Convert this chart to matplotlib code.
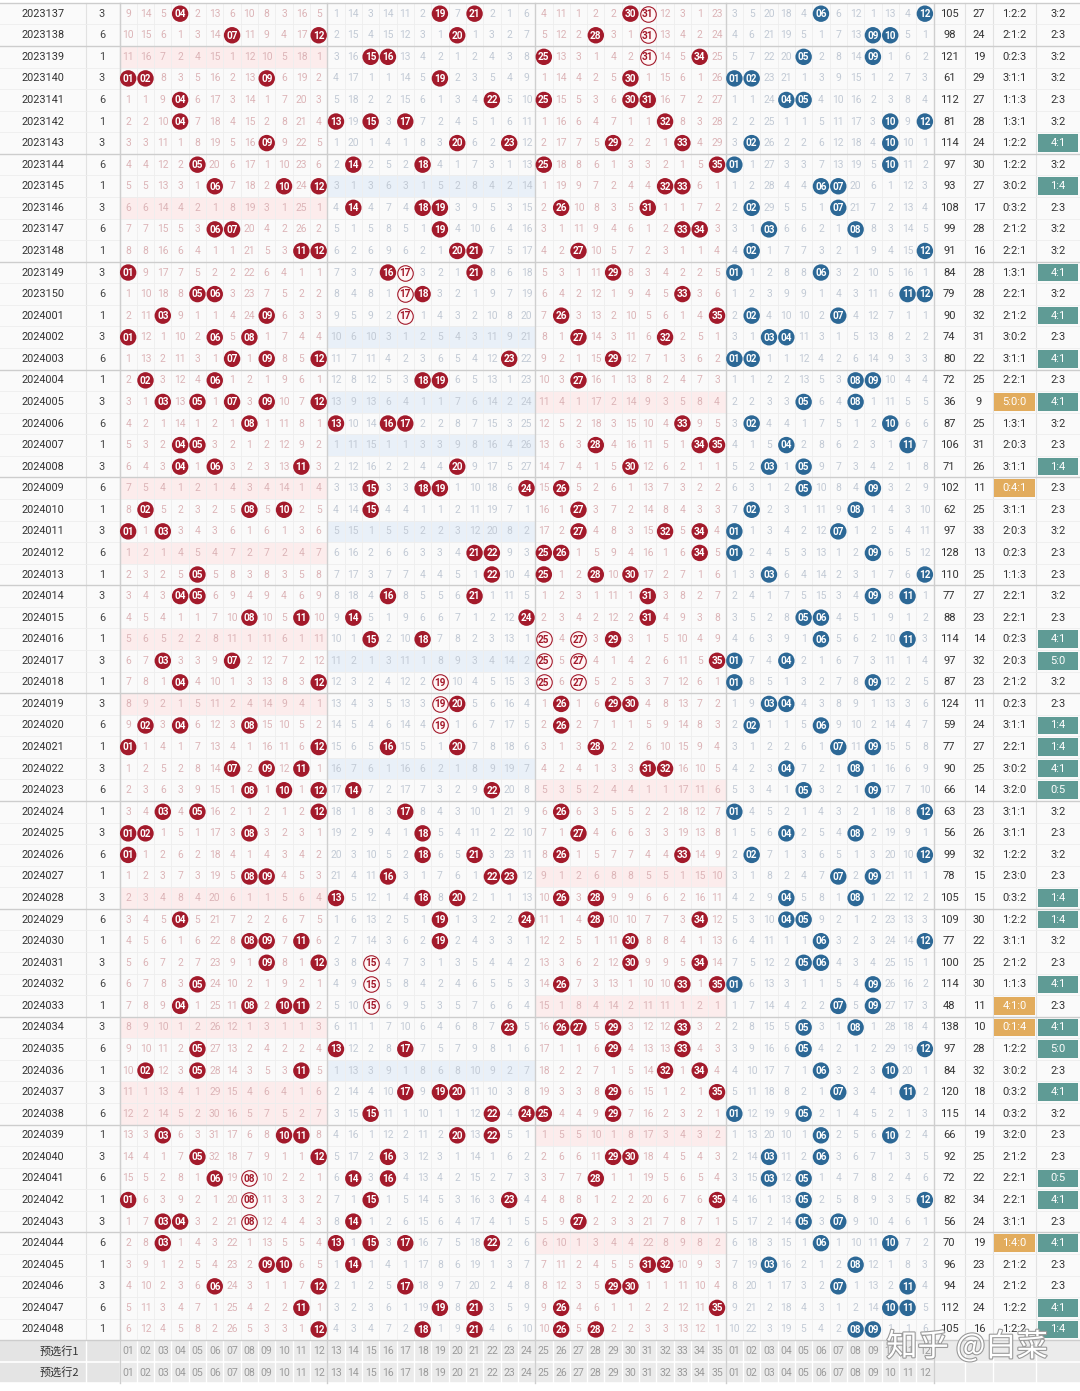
import matplotlib
matplotlib.use('Agg')
import matplotlib.pyplot as plt
import matplotlib.patheffects as pe
from matplotlib.patches import Rectangle
import numpy as np

# ---------------- data ----------------
issues = ['2023137', '2023138', '2023139', '2023140', '2023141', '2023142', '2023143',
          '2023144', '2023145', '2023146', '2023147', '2023148', '2023149', '2023150',
          '2024001', '2024002', '2024003', '2024004', '2024005', '2024006', '2024007',
          '2024008', '2024009', '2024010', '2024011', '2024012', '2024013', '2024014',
          '2024015', '2024016', '2024017', '2024018', '2024019', '2024020', '2024021',
          '2024022', '2024023', '2024024', '2024025', '2024026', '2024027', '2024028',
          '2024029', '2024030', '2024031', '2024032', '2024033', '2024034', '2024035',
          '2024036', '2024037', '2024038', '2024039', '2024040', '2024041', '2024042',
          '2024043', '2024044', '2024045', '2024046', '2024047', '2024048']
weekday = [3, 6, 1, 3, 6, 1, 3, 6, 1, 3, 6, 1, 3, 6, 1, 3, 6, 1, 3, 6, 1, 3, 6, 1, 3, 6,
           1, 3, 6, 1, 3, 1, 3, 6, 1, 3, 6, 1, 3, 6, 1, 3, 6, 1, 3, 6, 1, 3, 6, 1, 3, 6,
           1, 3, 6, 1, 3, 6, 1, 3, 6, 1]
front = [[4, 19, 21, 30, 31], [7, 12, 20, 28, 31], [15, 16, 25, 31, 34], [1, 2, 9, 19, 30],
         [4, 22, 25, 30, 31], [4, 13, 15, 17, 32], [9, 20, 23, 29, 33], [5, 14, 18, 25, 35],
         [6, 10, 12, 32, 33], [14, 18, 19, 26, 31], [6, 7, 19, 33, 34], [11, 12, 20, 21, 27],
         [1, 16, 17, 21, 29], [5, 6, 17, 18, 33], [3, 9, 17, 26, 35], [1, 6, 8, 27, 32],
         [7, 9, 12, 23, 29], [2, 6, 18, 19, 27], [3, 5, 7, 9, 12], [8, 13, 16, 17, 33],
         [4, 5, 28, 34, 35], [4, 6, 11, 20, 30], [15, 18, 19, 24, 26], [2, 8, 10, 15, 27],
         [1, 3, 27, 32, 34], [21, 22, 25, 26, 34], [5, 22, 25, 28, 30], [4, 5, 16, 21, 31],
         [8, 11, 14, 24, 31], [15, 18, 25, 27, 29], [3, 7, 25, 27, 35], [4, 12, 19, 25, 27],
         [19, 20, 26, 29, 30], [2, 4, 8, 19, 26], [1, 12, 16, 20, 28], [7, 9, 11, 31, 32],
         [8, 10, 12, 14, 22], [3, 5, 12, 17, 26], [1, 2, 8, 18, 27], [1, 18, 21, 26, 33],
         [8, 9, 16, 22, 23], [13, 18, 20, 26, 28], [4, 19, 24, 28, 34], [8, 9, 11, 19, 30],
         [9, 12, 15, 30, 34], [5, 15, 26, 33, 35], [4, 8, 10, 11, 15], [23, 26, 27, 29, 33],
         [5, 13, 17, 29, 33], [2, 5, 11, 32, 34], [17, 19, 20, 29, 35], [15, 22, 24, 25, 29],
         [3, 10, 11, 20, 22], [5, 12, 16, 29, 30], [6, 8, 14, 16, 28], [1, 8, 15, 23, 35],
         [3, 4, 8, 14, 27], [3, 13, 15, 17, 22], [9, 10, 14, 31, 32], [6, 12, 17, 29, 30],
         [11, 19, 21, 26, 35], [12, 18, 21, 26, 28]]
back = [[6, 12], [9, 10], [5, 9], [1, 2], [4, 5], [10, 12], [2, 10], [1, 10], [6, 7], [2, 7],
        [3, 8], [2, 12], [1, 6], [11, 12], [2, 7], [3, 4], [1, 2], [8, 9], [5, 8], [2, 10],
        [4, 11], [3, 5], [5, 9], [2, 8], [1, 7], [1, 9], [3, 12], [9, 11], [5, 6], [6, 11],
        [1, 4], [1, 9], [3, 4], [2, 6], [7, 9], [4, 8], [5, 9], [1, 12], [4, 8], [2, 12],
        [7, 9], [4, 8], [4, 5], [6, 12], [5, 6], [1, 9], [7, 9], [5, 8], [5, 12], [6, 10],
        [7, 11], [1, 5], [6, 10], [3, 6], [3, 5], [5, 12], [5, 7], [6, 10], [3, 8], [7, 11],
        [10, 11], [8, 9]]
# omission values shown in the first row (2023137); 0 = drawn
first_front_omission = [9, 14, 5, 0, 2, 13, 6, 10, 8, 3, 16, 5,
                        1, 14, 3, 14, 11, 2, 0, 7, 0, 2, 1, 6,
                        4, 11, 1, 2, 2, 0, 0, 12, 3, 1, 23]
first_back_omission = [3, 5, 20, 18, 4, 0, 6, 12, 1, 13, 4, 0]
footer_labels = ['预选行1', '预选行2']
front_labels = ['%02d' % v for v in range(1, 36)]
back_labels = ['%02d' % v for v in range(1, 13)]
watermark = '知乎 @白菜'

# ---------------- derived tables ----------------
n = len(issues)
fo = np.zeros((n, 35), int)
bo = np.zeros((n, 12), int)
fo[0] = first_front_omission
bo[0] = first_back_omission
for i in range(1, n):
    for k in range(35):
        fo[i, k] = 0 if (k + 1) in front[i] else fo[i - 1, k] + 1
    for k in range(12):
        bo[i, k] = 0 if (k + 1) in back[i] else bo[i - 1, k] + 1


def run_len(i, v):
    a = i
    while a - 1 >= 0 and v in front[a - 1]:
        a -= 1
    b = i
    while b + 1 < n and v in front[b + 1]:
        b += 1
    return b - a + 1


# ---------------- layout ----------------
W, H = 1080, 1391
fig = plt.figure(figsize=(W / 100, H / 100), dpi=100)
ax = fig.add_axes([0, 0, 1, 1])
ax.set_xlim(0, W)
ax.set_ylim(H, 0)
ax.axis('off')
fig.patch.set_facecolor('white')

x0 = 119.5
cw = 17.32
y0 = 2.9
rh = 21.57
issue_edges = [0, 86, x0]
right_edges = [x0 + 47 * cw, 965, 993, 1036, 1080]
nrows = n + 2

RED = '#a31a2b'
BLUE = '#2c6896'
PINK_BG = '#fcecec'
BLUE_BG = '#e9f0f8'
PINK_TXT = '#dcb4b7'
BLUE_TXT = '#c2cad5'
TEAL = '#5f9b95'
ORANGE = '#e2ac5d'


def cx(k):
    return x0 + (k + 0.5) * cw


def cy(i):
    return y0 + (i + 0.5) * rh


# background
ax.add_patch(Rectangle((0, y0), W, n * rh, facecolor='#fafafa', edgecolor='none', zorder=0))
ax.add_patch(Rectangle((0, y0 + n * rh), W, 2 * rh, facecolor='#ebebeb', edgecolor='none', zorder=0))
ax.add_patch(Rectangle((0, y0 + n * rh), issue_edges[2], 2 * rh, facecolor='#e4e4e4', edgecolor='none', zorder=0))

zones = [(0, 12, PINK_BG), (12, 24, BLUE_BG), (24, 35, PINK_BG)]
for i in range(n):
    for (a, b, col) in zones:
        if not any(a < v <= b for v in front[i]):
            ax.add_patch(Rectangle((x0 + a * cw, y0 + i * rh), (b - a) * cw, rh,
                                   facecolor=col, edgecolor='none', zorder=0.5))

# grid lines
ytop, ybot = y0, y0 + nrows * rh
for k in range(48):
    xx = x0 + k * cw
    ax.plot([xx, xx], [ytop, y0 + n * rh], color='#eeeeee', lw=0.6, zorder=1)
    ax.plot([xx, xx], [y0 + n * rh, ybot], color='white', lw=1.0, zorder=1)
for xx in issue_edges[1:] + right_edges[1:-1]:
    ax.plot([xx, xx], [ytop, y0 + n * rh], color='#e2e2e2', lw=0.8, zorder=1)
    ax.plot([xx, xx], [y0 + n * rh, ybot], color='white', lw=1.0, zorder=1)
for k in [12, 24, 35, 47]:
    xx = x0 + k * cw
    ax.plot([xx, xx], [ytop, ybot], color='#cfcfcf', lw=1.0, zorder=1.2)
ax.plot([issue_edges[2], issue_edges[2]], [ytop, ybot], color='#cfcfcf', lw=1.0, zorder=1.2)
for i in range(nrows + 1):
    yy = y0 + i * rh
    if i > n:
        ax.plot([0, W], [yy, yy], color='white', lw=1.2, zorder=1)
    else:
        ax.plot([0, W], [yy, yy], color='#ededed', lw=0.6, zorder=1)
for i in [0] + list(range(2, n + 1, 5)):
    yy = y0 + i * rh
    ax.plot([0, W], [yy, yy], color='#cdcdcd', lw=1.0, zorder=1.3)

# texts and balls
num_font = 'Roboto'
for i in range(n):
    y = cy(i)
    ax.text(43, y, issues[i], ha='center', va='center', fontsize=7.8, color='#333333',
            family=num_font)
    ax.text(102, y, str(weekday[i]), ha='center', va='center', fontsize=7.8, color='#444444',
            family=num_font)
    for k in range(35):
        if fo[i, k] > 0:
            col = BLUE_TXT if 12 <= k < 24 else PINK_TXT
            ax.text(cx(k), y, str(fo[i, k]), ha='center', va='center', fontsize=7.4,
                    color=col, family=num_font)
    for k in range(12):
        if bo[i, k] > 0:
            ax.text(cx(35 + k), y, str(bo[i, k]), ha='center', va='center', fontsize=7.4,
                    color=BLUE_TXT, family=num_font)
    # red balls
    for v in front[i]:
        outlined = run_len(i, v) >= 3
        if outlined:
            ax.scatter([cx(v - 1)], [y], s=125, facecolor='#fff6f6', edgecolor=RED,
                       linewidth=0.8, zorder=3)
            ax.text(cx(v - 1), y + 0.3, '%02d' % v, ha='center', va='center', fontsize=7.2,
                    color=RED, fontweight='bold', family=num_font, zorder=4)
        else:
            ax.scatter([cx(v - 1)], [y], s=140, facecolor=RED, edgecolor='none', zorder=3)
            ax.text(cx(v - 1), y + 0.3, '%02d' % v, ha='center', va='center', fontsize=7.2,
                    color='white', fontweight='bold', family=num_font, zorder=4)
    for v in back[i]:
        ax.scatter([cx(35 + v - 1)], [y], s=140, facecolor=BLUE, edgecolor='none', zorder=3)
        ax.text(cx(35 + v - 1), y + 0.3, '%02d' % v, ha='center', va='center', fontsize=7.2,
                color='white', fontweight='bold', family=num_font, zorder=4)
    # stats
    f = front[i]
    s = sum(f)
    span = max(f) - min(f)
    z = [sum(1 for v in f if 1 <= v <= 12), sum(1 for v in f if 13 <= v <= 24),
         sum(1 for v in f if v >= 25)]
    odd = sum(1 for v in f if v % 2 == 1)
    ax.text((right_edges[0] + right_edges[1]) / 2, y, str(s), ha='center', va='center',
            fontsize=8, color='#333333', family=num_font)
    ax.text((right_edges[1] + right_edges[2]) / 2, y, str(span), ha='center', va='center',
            fontsize=8, color='#333333', family=num_font)
    zc = (right_edges[2] + right_edges[3]) / 2
    if max(z) >= 4:
        ax.add_patch(Rectangle((right_edges[2] + 1, y - rh / 2 + 2), right_edges[3] - right_edges[2] - 2,
                               rh - 4, facecolor=ORANGE, edgecolor='none', zorder=2))
        ax.text(zc, y, '%d:%d:%d' % tuple(z), ha='center', va='center', fontsize=8,
                color='white', family=num_font, zorder=4)
    else:
        ax.text(zc, y, '%d:%d:%d' % tuple(z), ha='center', va='center', fontsize=8,
                color='#333333', family=num_font)
    oc = (right_edges[3] + right_edges[4]) / 2
    if odd in (0, 1, 4, 5):
        ax.add_patch(Rectangle((right_edges[3] + 1.5, y - rh / 2 + 2), right_edges[4] - right_edges[3] - 3.5,
                               rh - 4, facecolor=TEAL, edgecolor='none', zorder=2))
        ax.text(oc, y, '%d:%d' % (odd, 5 - odd), ha='center', va='center', fontsize=8,
                color='white', family=num_font, zorder=4)
    else:
        ax.text(oc, y, '%d:%d' % (odd, 5 - odd), ha='center', va='center', fontsize=8,
                color='#333333', family=num_font)

# footer rows
for j, lab in enumerate(footer_labels):
    y = cy(n + j)
    ax.text(issue_edges[2] / 2, y, lab, ha='center', va='center', fontsize=8, color='#333333',
            family=['Noto Sans CJK SC', 'DejaVu Sans'])
    for k in range(35):
        ax.text(cx(k), y, front_labels[k], ha='center', va='center', fontsize=7.6,
                color='#9a9a9a', family=num_font)
    for k in range(12):
        ax.text(cx(35 + k), y, back_labels[k], ha='center', va='center', fontsize=7.6,
                color='#9a9a9a', family=num_font)

# watermark
ax.text(967, 1347, watermark, ha='center', va='center', fontsize=22.5, color='white',
        family=['Noto Sans CJK SC', 'DejaVu Sans'], zorder=6,
        path_effects=[pe.withStroke(linewidth=1.6, foreground='#9a9a9a')])

fig.savefig('out.png', dpi=100, facecolor='white')
